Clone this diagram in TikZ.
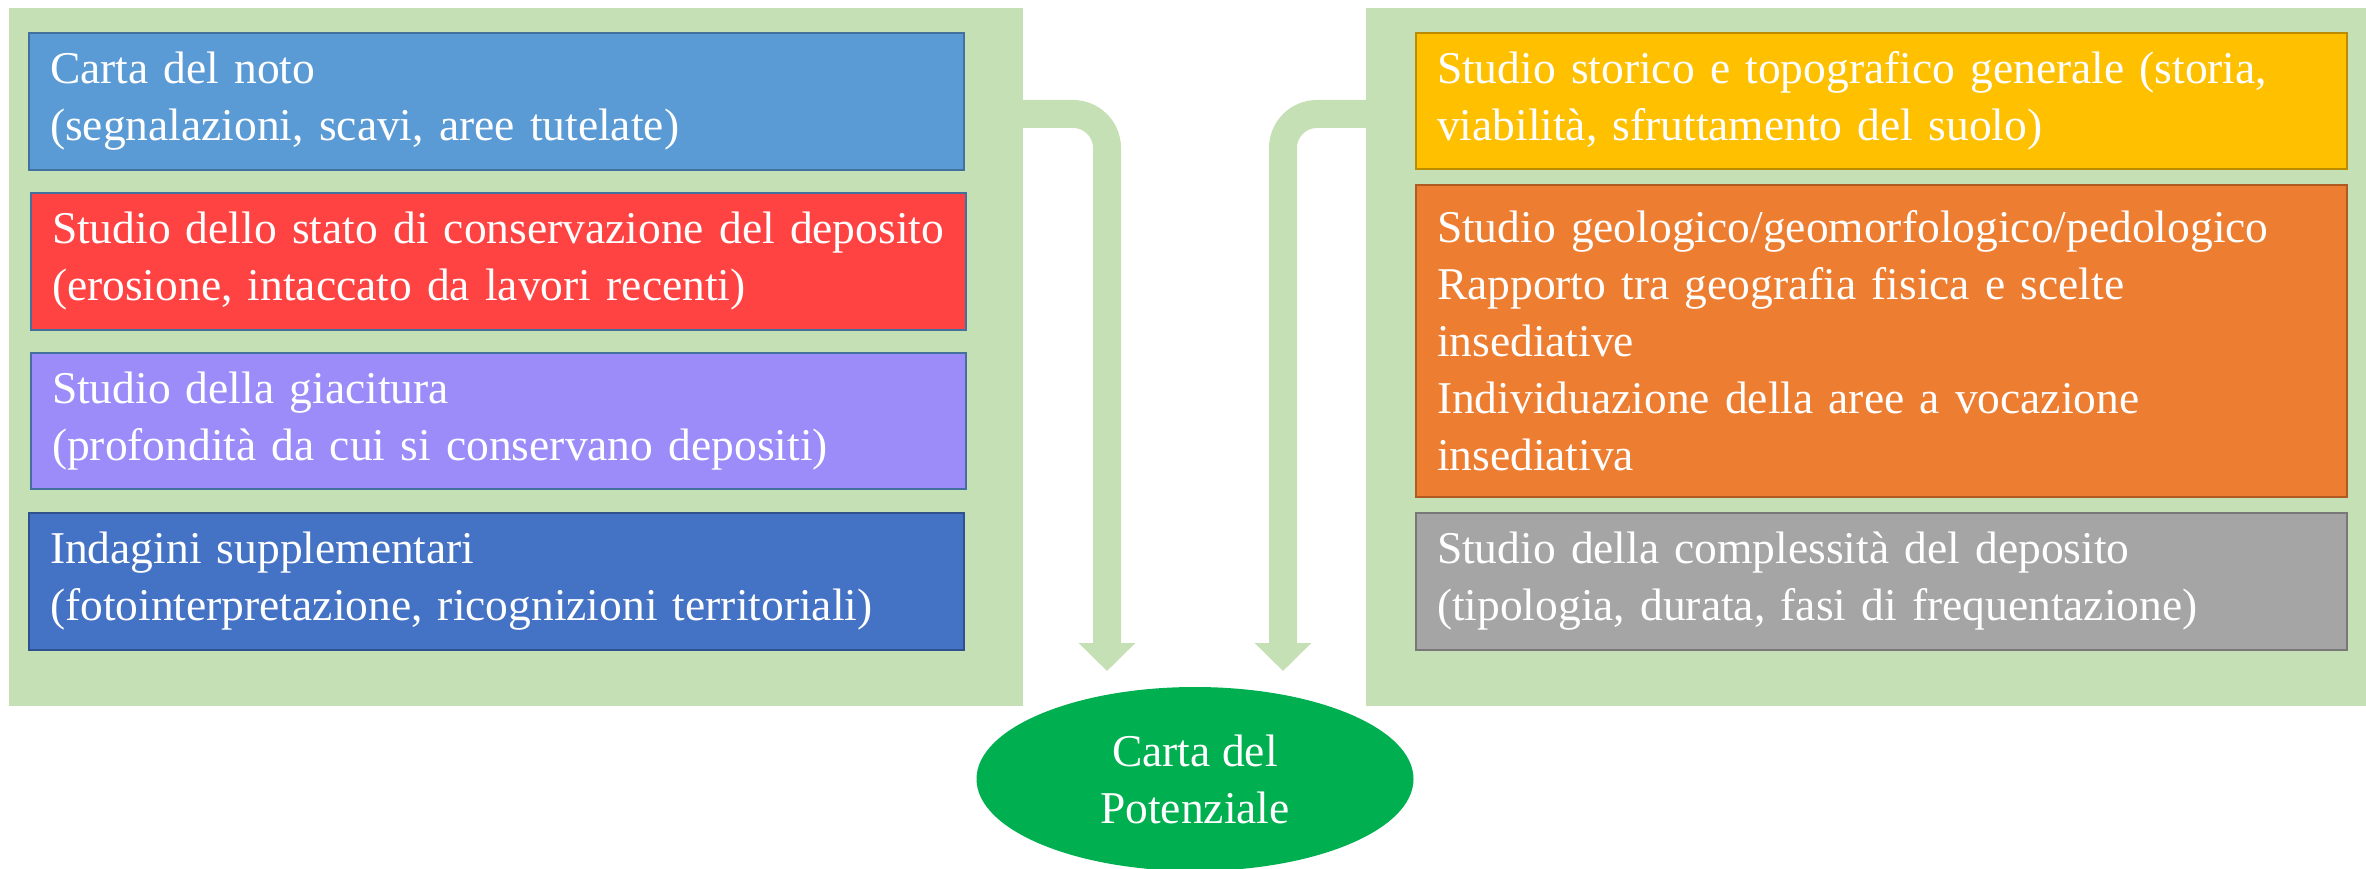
\documentclass[tikz,border=0pt]{standalone}
\usepackage{fontspec}
\setmainfont{Liberation Serif}
\usetikzlibrary{arrows.meta,shapes.geometric}
\definecolor{panelgreen}{HTML}{C5E0B4}
\definecolor{cA}{HTML}{5B9BD5}\definecolor{cAb}{HTML}{41719C}
\definecolor{cB}{HTML}{FF4343}\definecolor{cBb}{HTML}{41719C}
\definecolor{cC}{HTML}{9B8CFA}\definecolor{cCb}{HTML}{41719C}
\definecolor{cD}{HTML}{4472C4}\definecolor{cDb}{HTML}{2F528F}
\definecolor{cE}{HTML}{FFC000}\definecolor{cEb}{HTML}{BC8C00}
\definecolor{cF}{HTML}{ED7D31}\definecolor{cFb}{HTML}{AE5A21}
\definecolor{cG}{HTML}{A5A5A5}\definecolor{cGb}{HTML}{787878}
\definecolor{potgreen}{HTML}{00B050}
\begin{document}
\begin{tikzpicture}[x=1pt,y=-1pt,
  panel/.style={fill=panelgreen,draw=none,anchor=north west,inner sep=0pt},
  txt/.style={font=\fontsize{45.5}{57}\selectfont,text=white},
  item/.style={txt,line width=2pt,align=left,anchor=north west,inner xsep=21pt,inner ysep=0pt},
  litem/.style={item,text width=893pt},
  ritem/.style={item,text width=889pt},
  flow/.style={draw=panelgreen,line width=28pt,rounded corners=34pt,-{Triangle[width=55pt,length=28pt]}}]
\useasboundingbox (0,0) rectangle (2366,869);
% panels
\node[panel,minimum width=1014pt,minimum height=698pt] (lpanel) at (9,8) {};
\node[panel,minimum width=1000pt,minimum height=698pt] (rpanel) at (1366,8) {};
% left items
\node[litem,fill=cA,draw=cAb,minimum height=137pt] (a) at (28,32) {Carta del noto\\(segnalazioni, scavi, aree tutelate)};
\node[litem,fill=cB,draw=cBb,minimum height=137pt] (b) at (30,192) {Studio dello stato di conservazione del deposito\\(erosione, intaccato da lavori recenti)};
\node[litem,fill=cC,draw=cCb,minimum height=136pt] (c) at (30,352) {Studio della giacitura\\(profondità da cui si conservano depositi)};
\node[litem,fill=cD,draw=cDb,minimum height=137pt] (d) at (28,512) {Indagini supplementari\\(fotointerpretazione, ricognizioni territoriali)};
% right items
\node[ritem,fill=cE,draw=cEb,minimum height=136pt] (e) at (1415,32) {Studio storico e topografico generale (storia,\\viabilità, sfruttamento del suolo)};
\node[ritem,fill=cF,draw=cFb,minimum height=312pt] (f) at (1415,184) {Studio geologico/geomorfologico/pedologico\\Rapporto tra geografia fisica e scelte\\insediative\\Individuazione della aree a vocazione\\insediativa};
\node[ritem,fill=cG,draw=cGb,minimum height=137pt] (g) at (1415,512) {Studio della complessità del deposito\\(tipologia, durata, fasi di frequentazione)};
% result
\node[ellipse,fill=potgreen,minimum width=437pt,minimum height=184pt,inner sep=0pt,txt,align=center] (pot) at (1195,779) {Carta del\\Potenziale};
% connectors
\coordinate (ls) at (1010,114);
\coordinate (lt) at (1107,671);
\coordinate (rs) at (1380,114);
\coordinate (rt) at (1283,671);
\draw[flow] (ls) -| (lt);
\draw[flow] (rs) -| (rt);
\end{tikzpicture}
\end{document}
